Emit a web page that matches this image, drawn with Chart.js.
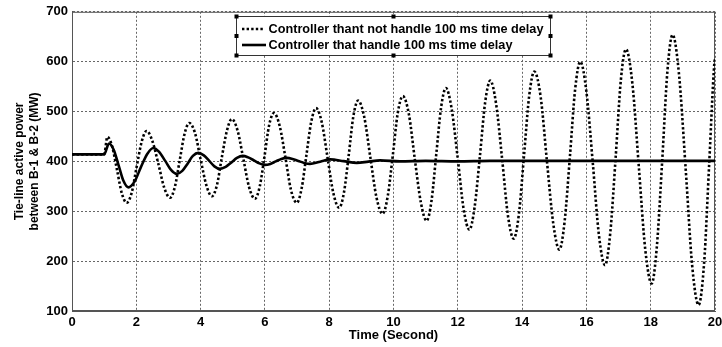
<!DOCTYPE html>
<html>
<head>
<meta charset="utf-8">
<script src="https://cdn.jsdelivr.net/npm/chart.js@4/dist/chart.umd.min.js"></script>
<style>
  html, body { margin: 0; padding: 0; background: #fff; }
  #wrap { width: 722px; height: 347px; }
</style>
</head>
<body>
<div id="wrap"><canvas id="plot"></canvas></div>
<script>
// curva sem compensação do atraso (pontilhada)
const tempo_sem = [0, 1.0, 1.1, 1.25, 1.4, 1.55, 1.7, 1.86, 2.01, 2.17, 2.32, 2.5, 2.69, 2.87, 3.05, 3.2, 3.35, 3.5, 3.65,
  3.83, 4.0, 4.18, 4.35, 4.51, 4.66, 4.82, 4.97, 5.15, 5.33, 5.51, 5.69, 5.84, 5.99, 6.13, 6.28, 6.46, 6.64, 6.81, 6.99,
  7.14, 7.29, 7.44, 7.59, 7.77, 7.95, 8.13, 8.31, 8.46, 8.61, 8.75, 8.9, 9.09, 9.28, 9.47, 9.66, 9.82, 9.98, 10.13, 10.29,
  10.48, 10.66, 10.85, 11.03, 11.18, 11.33, 11.48, 11.63, 11.81, 12.0, 12.18, 12.36, 12.52, 12.69, 12.85, 13.01,
  13.19, 13.38, 13.56, 13.74, 13.9, 14.06, 14.22, 14.38, 14.58, 14.77, 14.97, 15.16, 15.32, 15.49, 15.65, 15.81,
  16.0, 16.2, 16.39, 16.58, 16.74, 16.91, 17.07, 17.23, 17.43, 17.63, 17.83, 18.03, 18.19, 18.36, 18.52, 18.68,
  18.88, 19.09, 19.29, 19.49, 19.66, 19.82, 19.98, 20];
const potencia_sem = [414, 414, 449, 430, 383, 336, 317, 338, 389, 440, 461, 441, 394, 347, 327, 349, 402, 455, 477,
  456, 404, 352, 330, 353, 408, 462, 485, 462, 405, 348, 325, 350, 411, 472, 497, 471, 407, 343, 317,
  345, 412, 479, 507, 478, 407, 336, 307, 338, 414, 490, 522, 489, 408, 328, 295, 330, 413, 496, 531,
  494, 406, 318, 281, 320, 414, 508, 547, 505, 405, 305, 263, 307, 412, 518, 562,
  516, 404, 291, 245, 294, 412, 531, 580, 528, 402, 275, 223, 278, 412, 545, 600,
  540, 396, 252, 192, 255, 408, 562, 625, 556, 390, 224, 155, 228, 404, 581, 654,
  575, 383, 191, 112, 195, 396, 597, 605];

// curva com compensação do atraso (contínua)
const tempo_com = [0, 1.0, 1.15, 1.3, 1.45, 1.6, 1.75, 1.95, 2.14, 2.34, 2.53, 2.71, 2.9, 3.08, 3.26, 3.43, 3.6, 3.76, 3.93,
  4.1, 4.27, 4.43, 4.6, 4.78, 4.96, 5.13, 5.31, 5.48, 5.66, 5.83, 6.0, 6.17, 6.34, 6.51, 6.68, 6.86, 7.04, 7.22, 7.4,
  7.72, 8.03, 8.45, 8.86, 9.22, 9.58, 10.2, 11, 12, 13, 14, 15, 16, 17, 18, 19, 20];
const potencia_com = [414, 414, 436, 423, 392, 361, 348, 360, 388, 415, 427, 419, 401, 383, 375, 381, 396, 411, 417,
  412, 401, 390, 385, 389, 398, 407, 411, 408, 402, 396, 393, 395, 400, 405, 407, 405, 401, 397, 395,
  399.5, 404, 400.5, 397, 399.5, 402, 400, 401, 400, 401, 401, 401, 401, 401, 401, 401, 401];

const legenda = ["Controller thant not handle 100 ms time delay", "Controller that handle 100 ms time delay"];
const ticks_x = [0, 20, 2];
const ticks_y = [100, 700, 100];

const fonte = "Liberation Sans, Arial, sans-serif";

function pontos(t, v) {
  return t.map((x, i) => ({ x: x, y: v[i] }));
}

// legenda desenhada dentro da area do grafico, com as alças de seleção
const legendaBox = {
  id: "legendaBox",
  afterDraw(chart) {
    const ctx = chart.ctx;
    const x0 = 236.5, y0 = 16.5, x1 = 550.5, y1 = 55.5;
    ctx.save();
    ctx.fillStyle = "#fff";
    ctx.fillRect(x0, y0, x1 - x0, y1 - y0);
    ctx.strokeStyle = "#333";
    ctx.lineWidth = 1;
    ctx.setLineDash([]);
    ctx.strokeRect(x0, y0, x1 - x0, y1 - y0);
    // alças
    ctx.fillStyle = "#000";
    const xm = (x0 + x1) / 2, ym = (y0 + y1) / 2;
    [[x0, y0], [xm, y0], [x1, y0], [x0, ym], [x1, ym], [x0, y1], [xm, y1], [x1, y1]].forEach(p => {
      ctx.fillRect(p[0] - 2, p[1] - 2, 4, 4);
    });
    chart.data.datasets.forEach((ds, i) => {
      const y = 29 + i * 16;
      ctx.beginPath();
      ctx.strokeStyle = "#000";
      ctx.lineWidth = ds.borderWidth;
      ctx.setLineDash(ds.borderDash || []);
      ctx.moveTo(242, y);
      ctx.lineTo(ds.borderDash ? 264 : 266, y);
      ctx.stroke();
      ctx.setLineDash([]);
      ctx.fillStyle = "#000";
      ctx.font = "bold 12.7px " + fonte;
      ctx.textBaseline = "middle";
      ctx.fillText(ds.label, 268.5, y);
    });
    ctx.restore();
  },
  beforeDatasetsDraw(chart) {
    // caixa dos eixos (topo e direita)
    const a = chart.chartArea;
    const ctx = chart.ctx;
    ctx.save();
    ctx.strokeStyle = "#555";
    ctx.lineWidth = 1;
    ctx.strokeRect(a.left + 0.5, a.top + 0.5, a.right - a.left - 1, a.bottom - a.top - 1);
    ctx.restore();
  }
};

const grafico = new Chart(document.getElementById("plot"), {
  type: "line",
  data: {
    datasets: [
      {
        label: legenda[0],
        data: pontos(tempo_sem, potencia_sem),
        borderColor: "#000",
        borderWidth: 2.6,
        borderDash: [2.4, 2.2],
        pointRadius: 0,
        cubicInterpolationMode: "monotone",
        order: 1
      },
      {
        label: legenda[1],
        data: pontos(tempo_com, potencia_com),
        borderColor: "#000",
        borderWidth: 2.6,
        pointRadius: 0,
        cubicInterpolationMode: "monotone",
        order: 0
      }
    ]
  },
  options: {
    responsive: true,
    maintainAspectRatio: false,
    animation: false,
    layout: { padding: { top: 11, right: 7, left: 0, bottom: 0 } },
    plugins: { legend: { display: false }, tooltip: { enabled: false } },
    scales: {
      x: {
        type: "linear",
        min: ticks_x[0],
        max: ticks_x[1],
        ticks: { stepSize: ticks_x[2], color: "#000", padding: 4, maxRotation: 0, font: { family: fonte, size: 13, weight: "bold" } },
        grid: { color: "#666", lineWidth: 1, drawTicks: false },
        border: { color: "#555", width: 1, dash: [2, 2] },
        title: { display: true, text: "Time (Second)", color: "#000", padding: { top: 0, bottom: 4 }, font: { family: fonte, size: 13, weight: "bold" } },
        afterFit(scale) {
          scale.height = 36;
          scale.paddingLeft = 0;
          scale.paddingRight = 0;
        }
      },
      y: {
        min: ticks_y[0],
        max: ticks_y[1],
        ticks: { stepSize: ticks_y[2], color: "#000", padding: 4, font: { family: fonte, size: 13, weight: "bold" } },
        grid: { color: "#666", lineWidth: 1, drawTicks: false },
        border: { color: "#555", width: 1, dash: [2, 2] },
        title: {
          display: true,
          text: ["Tie-line active power", "between B-1 & B-2 (MW)"],
          color: "#000",
          padding: { top: 12, bottom: 0 },
          font: { family: fonte, size: 12, weight: "bold", lineHeight: 1.25 }
        },
        afterFit(scale) { scale.width = 72; }
      }
    }
  },
  plugins: [legendaBox]
});
</script>
</body>
</html>
